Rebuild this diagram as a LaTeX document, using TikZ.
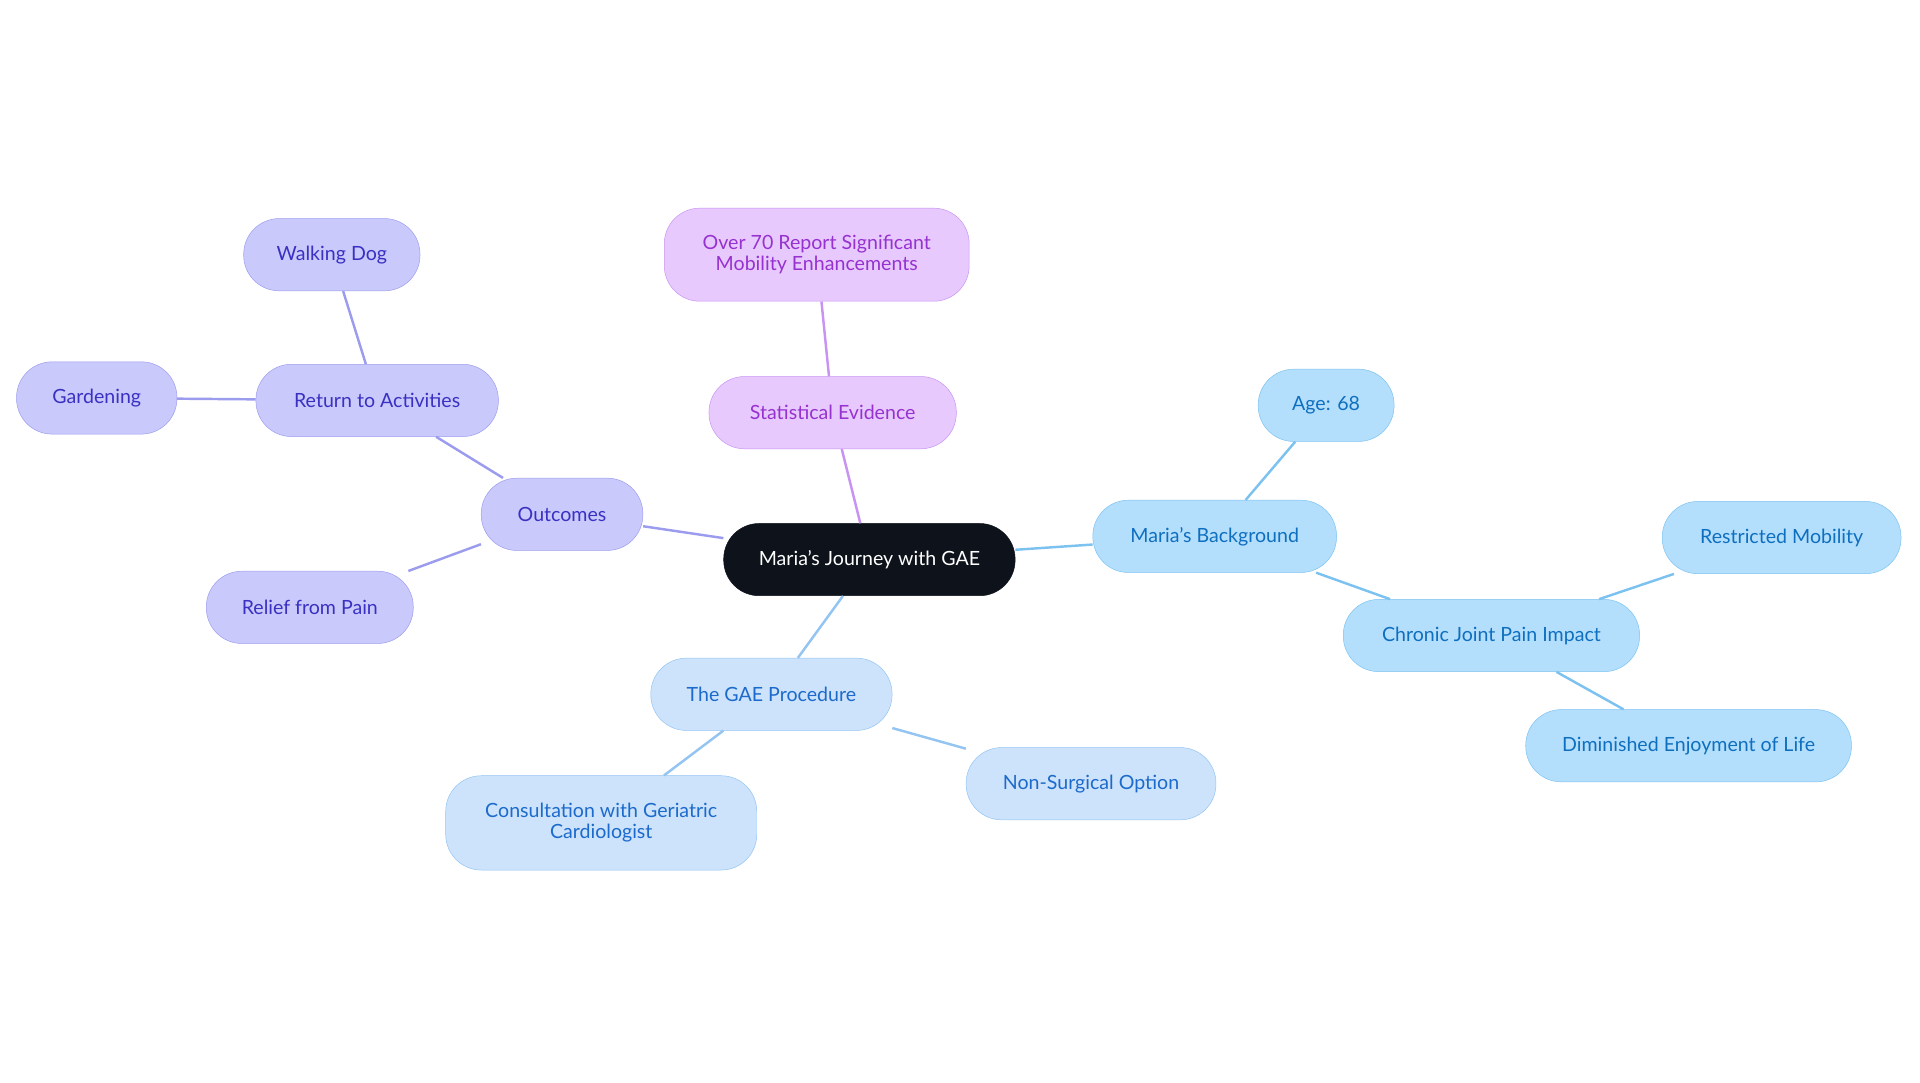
\documentclass[tikz,border=0pt]{standalone}
\usepackage{fontspec}
\setmainfont{Lato}
\definecolor{cb}{HTML}{B3DFFD}\definecolor{cbd}{HTML}{7CC2F0}\definecolor{cbt}{HTML}{0F6FBF}
\definecolor{lb}{HTML}{CCE3FB}\definecolor{lbd}{HTML}{93C4F2}\definecolor{lbt}{HTML}{1C6ACB}
\definecolor{pu}{HTML}{E8C9FD}\definecolor{pud}{HTML}{C893F2}\definecolor{put}{HTML}{9632CF}
\definecolor{in}{HTML}{C9C9FB}\definecolor{ind}{HTML}{9C9CEF}\definecolor{int}{HTML}{3A31C2}
\definecolor{dk}{HTML}{0D121B}
\tikzset{
 bx/.style={rounded corners=29pt,minimum height=59pt,align=center,font=\fontsize{16}{17}\selectfont,inner sep=0pt},
 cyan/.style={bx,fill=cb,draw=cbd,text=cbt},
 lblue/.style={bx,fill=lb,draw=lbd,text=lbt},
 purp/.style={bx,fill=pu,draw=pud,text=put},
 indi/.style={bx,fill=in,draw=ind,text=int},
 ln/.style={line width=2pt}
}
\begin{document}
\begin{tikzpicture}[x=1pt,y=-1pt]
\useasboundingbox (0,0) rectangle (1568,884);
\node[bx,fill=dk,draw=dk,text=white,minimum width=238pt] (c) at (710,457) {Maria's Journey with GAE};
\node[cyan,minimum width=199pt] (mb) at (992,438) {Maria's Background};
\node[cyan,minimum width=111pt] (age) at (1083,331) {Age: 68};
\node[cyan,minimum width=242pt] (cj) at (1218,519) {Chronic Joint Pain Impact};
\node[cyan,minimum width=195pt] (rm) at (1455,439) {Restricted Mobility};
\node[cyan,minimum width=266pt] (de) at (1379,609) {Diminished Enjoyment of Life};
\node[lblue,minimum width=197pt] (gp) at (630,567) {The GAE Procedure};
\node[lblue,minimum width=204pt] (ns) at (891,640) {Non-Surgical Option};
\node[lblue,minimum width=254pt,minimum height=77pt] (cg) at (491,672) {Consultation with Geriatric\\Cardiologist};
\node[purp,minimum width=202pt] (se) at (680,337) {Statistical Evidence};
\node[purp,minimum width=249pt,minimum height=76pt] (ov) at (667,208) {Over 70 Report Significant\\Mobility Enhancements};
\node[indi,minimum width=132pt] (oc) at (459,420) {Outcomes};
\node[indi,minimum width=198pt] (ra) at (308,327) {Return to Activities};
\node[indi,minimum width=144pt] (wd) at (271,208) {Walking Dog};
\node[indi,minimum width=131pt] (gd) at (79,325) {Gardening};
\node[indi,minimum width=169pt] (rp) at (253,496) {Relief from Pain};
\begin{scope}[on background layer/.style={}]
\end{scope}
\begin{pgfonlayer}{main}\end{pgfonlayer}
\draw[ln,cbd] (c) -- (mb) (mb) -- (age) (mb) -- (cj) (cj) -- (rm) (cj) -- (de);
\draw[ln,lbd] (c) -- (gp) (gp) -- (ns) (gp) -- (cg);
\draw[ln,pud] (c) -- (se) (se) -- (ov);
\draw[ln,ind] (c) -- (oc) (oc) -- (ra) (ra) -- (wd) (ra) -- (gd) (oc) -- (rp);
\end{tikzpicture}
\end{document}
